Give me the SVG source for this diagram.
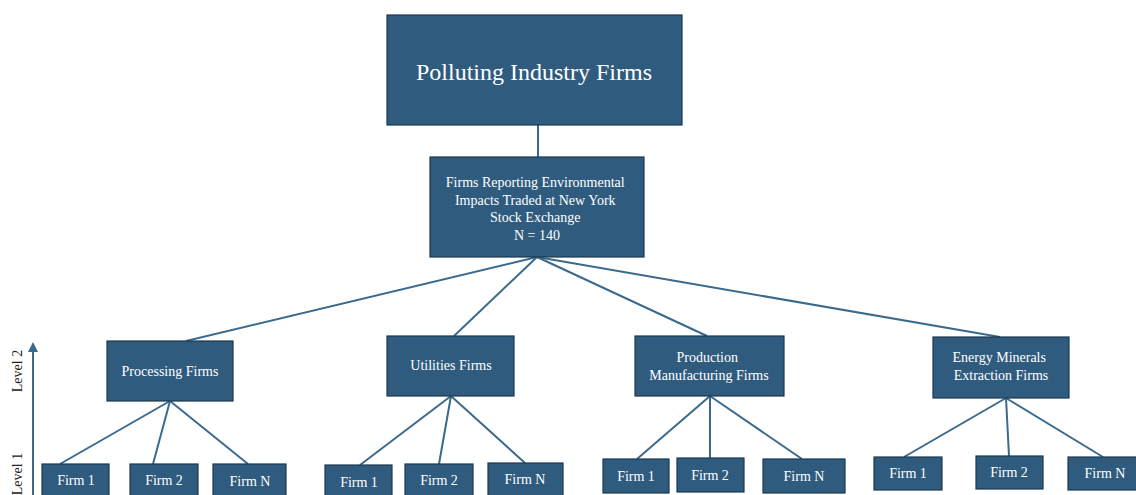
<svg xmlns="http://www.w3.org/2000/svg" width="1136" height="495" viewBox="0 0 1136 495">
  <defs>
    <style>
      .box { fill: #2f5b7e; stroke: #1c3850; stroke-width: 1.2; }
      .lbl { fill: #ffffff; font-family: "Liberation Serif", "Times New Roman", serif; text-anchor: middle; }
      .axis-lbl { fill: #222222; font-family: "Liberation Serif", "Times New Roman", serif; font-size: 14px; text-anchor: middle; }
      .link { stroke: #3a6a8e; stroke-width: 2; fill: none; }
    </style>
    <marker id="arrowhead" viewBox="0 0 10 10" refX="5" refY="5" markerWidth="5" markerHeight="5" orient="auto-start-reverse">
      <path d="M0,0 L10,5 L0,10 z" fill="#3a6a8e"/>
    </marker>
  </defs>
  <rect width="1136" height="495" fill="#ffffff"/>

  <!-- level axis -->
  <g id="axis">
    <line x1="33" y1="495" x2="33" y2="347" class="link" stroke-width="1.6" marker-end="url(#arrowhead)"/>
    <text class="axis-lbl" transform="translate(22,371) rotate(-90)">Level 2</text>
    <text class="axis-lbl" transform="translate(22,474) rotate(-90)">Level 1</text>
  </g>

  <!-- connectors -->
  <g id="connectors">
    <line class="link" x1="538" y1="125" x2="538" y2="157"/>
    <line class="link" x1="537" y1="257" x2="186" y2="341"/>
    <line class="link" x1="537" y1="257" x2="454" y2="336"/>
    <line class="link" x1="537" y1="257" x2="707" y2="336"/>
    <line class="link" x1="537" y1="257" x2="1000" y2="337"/>

    <line class="link" x1="170" y1="401" x2="60" y2="464"/>
    <line class="link" x1="170" y1="401" x2="153" y2="464"/>
    <line class="link" x1="170" y1="401" x2="248" y2="464"/>

    <line class="link" x1="451" y1="396" x2="360" y2="465"/>
    <line class="link" x1="451" y1="396" x2="439" y2="464"/>
    <line class="link" x1="451" y1="396" x2="525" y2="463"/>

    <line class="link" x1="710" y1="396" x2="637" y2="459"/>
    <line class="link" x1="710" y1="396" x2="710" y2="458"/>
    <line class="link" x1="710" y1="396" x2="802" y2="459"/>

    <line class="link" x1="1006" y1="398" x2="904" y2="457"/>
    <line class="link" x1="1006" y1="398" x2="1009" y2="456"/>
    <line class="link" x1="1006" y1="398" x2="1103" y2="457"/>
  </g>

  <g id="root">
    <rect class="box" x="387" y="15" width="295" height="110"/>
    <text class="lbl" x="534" y="80" font-size="24">Polluting Industry Firms</text>
  </g>

  <g id="nyse">
    <rect class="box" x="430" y="157" width="214" height="100"/>
    <text class="lbl" font-size="14">
      <tspan x="537" y="187">Firms Reporting Environmental</tspan>
      <tspan x="537" y="204.5">Impacts Traded at New York</tspan>
      <tspan x="537" y="222">Stock Exchange</tspan>
      <tspan x="537" y="239.5">N = 140</tspan>
    </text>
  </g>

  <g id="processing">
    <rect class="box" x="107" y="341" width="126" height="60"/>
    <text class="lbl" x="170" y="376" font-size="14">Processing Firms</text>
  </g>
  <g id="utilities">
    <rect class="box" x="387" y="336" width="127" height="60"/>
    <text class="lbl" x="451" y="370" font-size="14">Utilities Firms</text>
  </g>
  <g id="production">
    <rect class="box" x="635" y="336" width="149" height="60"/>
    <text class="lbl" font-size="14">
      <tspan x="709" y="362">Production</tspan>
      <tspan x="709" y="380">Manufacturing Firms</tspan>
    </text>
  </g>
  <g id="energy">
    <rect class="box" x="933" y="337" width="136" height="61"/>
    <text class="lbl" font-size="14">
      <tspan x="1001" y="362">Energy Minerals</tspan>
      <tspan x="1001" y="380">Extraction Firms</tspan>
    </text>
  </g>

  <!-- processing firms -->
  <g id="proc-firm-1"><rect class="box" x="42" y="464" width="67" height="36"/><text class="lbl" x="76" y="485" font-size="14">Firm 1</text></g>
  <g id="proc-firm-2"><rect class="box" x="130" y="464" width="68" height="36"/><text class="lbl" x="164" y="485" font-size="14">Firm 2</text></g>
  <g id="proc-firm-n"><rect class="box" x="213" y="464" width="73" height="36"/><text class="lbl" x="250" y="486" font-size="14">Firm N</text></g>

  <!-- utilities firms -->
  <g id="util-firm-1"><rect class="box" x="325" y="465" width="67" height="36"/><text class="lbl" x="359" y="487" font-size="14">Firm 1</text></g>
  <g id="util-firm-2"><rect class="box" x="405" y="464" width="68" height="36"/><text class="lbl" x="439" y="485" font-size="14">Firm 2</text></g>
  <g id="util-firm-n"><rect class="box" x="488" y="463" width="75" height="36"/><text class="lbl" x="525" y="484" font-size="14">Firm N</text></g>

  <!-- production firms -->
  <g id="prod-firm-1"><rect class="box" x="603" y="459" width="66" height="34"/><text class="lbl" x="636" y="481" font-size="14">Firm 1</text></g>
  <g id="prod-firm-2"><rect class="box" x="677" y="458" width="67" height="34"/><text class="lbl" x="710" y="480" font-size="14">Firm 2</text></g>
  <g id="prod-firm-n"><rect class="box" x="763" y="459" width="82" height="34"/><text class="lbl" x="804" y="481" font-size="14">Firm N</text></g>

  <!-- energy firms -->
  <g id="energy-firm-1"><rect class="box" x="874" y="457" width="68" height="33"/><text class="lbl" x="908" y="478" font-size="14">Firm 1</text></g>
  <g id="energy-firm-2"><rect class="box" x="976" y="456" width="67" height="33"/><text class="lbl" x="1009" y="477" font-size="14">Firm 2</text></g>
  <g id="energy-firm-n"><rect class="box" x="1068" y="457" width="72" height="33"/><text class="lbl" x="1105" y="478" font-size="14">Firm N</text></g>
</svg>
